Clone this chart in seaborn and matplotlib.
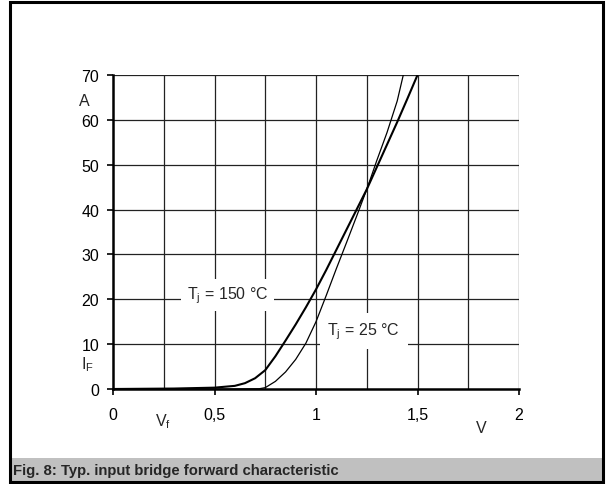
import matplotlib
matplotlib.use("Agg")
import matplotlib.pyplot as plt
import seaborn as sns
import pandas as pd
from matplotlib.patches import Rectangle

sns.set_theme(style="white")
plt.rcParams['font.family'] = ['Liberation Sans', 'DejaVu Sans']

# Data
v_150 = [0.0, 0.3, 0.5, 0.6, 0.65, 0.7, 0.75, 0.8, 0.85, 0.9, 0.95, 1.0, 1.05, 1.1, 1.15, 1.2, 1.25, 1.3, 1.35, 1.4, 1.45, 1.5]
i_150 = [0.0, 0.1, 0.3, 0.7, 1.3, 2.4, 4.2, 7.3, 10.8, 14.4, 18.2, 22.2, 26.5, 31.0, 35.5, 40.0, 44.5, 49.5, 54.5, 59.5, 64.7, 70.0]
v_25 = [0.0, 0.6, 0.72, 0.75, 0.8, 0.85, 0.9, 0.95, 1.0, 1.05, 1.1, 1.15, 1.2, 1.25, 1.3, 1.35, 1.4, 1.43]
i_25 = [0.0, 0.0, 0.05, 0.3, 1.7, 3.8, 6.6, 10.2, 15.0, 20.8, 26.8, 32.6, 38.5, 44.5, 51.0, 57.2, 64.2, 70.0]
x_ticks = [0, 0.5, 1, 1.5, 2]
x_tick_labels = ["0", "0,5", "1", "1,5", "2"]
y_ticks = [0, 10, 20, 30, 40, 50, 60, 70]
caption = "Fig. 8: Typ. input bridge forward characteristic"

df150 = pd.DataFrame({"V": v_150, "I": i_150})
df25 = pd.DataFrame({"V": v_25, "I": i_25})

W, H = 607, 485
fig = plt.figure(figsize=(W / 100, H / 100), dpi=100)

def fx(px):
    return px / W

def fy(py):
    return 1 - py / H

ax = fig.add_axes([fx(113), fy(390), fx(519) - fx(113), fy(76) - fy(390)])

FS = 11.5

# grid
for gx in [0.25 * k for k in range(1, 9)]:
    ax.axvline(gx, color="#222222", lw=0.9, zorder=1)
for gy in y_ticks[1:]:
    ax.axhline(gy, color="#222222", lw=0.9, zorder=1)

sns.lineplot(data=df150, x="V", y="I", ax=ax, color="black", lw=1.5, zorder=3)
sns.lineplot(data=df25, x="V", y="I", ax=ax, color="black", lw=0.9, zorder=3)

ax.set_xlim(0, 2)
ax.set_ylim(0, 70)
ax.set_xticks(x_ticks)
ax.set_xticklabels(x_tick_labels)
ax.set_yticks(y_ticks)
ax.set_xlabel("")
ax.set_ylabel("")
for s in ["top", "right"]:
    ax.spines[s].set_visible(False)
for s in ["left", "bottom"]:
    ax.spines[s].set_color("black")
    ax.spines[s].set_linewidth(1.8)
    ax.spines[s].set_zorder(4)
ax.tick_params(axis="both", direction="out", length=4, width=1.2, color="black",
               labelsize=FS, labelcolor="black", left=True, bottom=True)
ax.tick_params(axis="x", pad=9)
ax.tick_params(axis="y", pad=6)

ax.text(0.565, 21.0, r"T$_\mathregular{j}$ = 150 °C", fontsize=FS, ha="center", va="center",
        bbox=dict(facecolor="white", edgecolor="none", pad=4), zorder=5)
ax.text(1.235, 12.9, r"T$_\mathregular{j}$ = 25 °C", fontsize=FS, ha="center", va="center",
        bbox=dict(facecolor="white", edgecolor="none", pad=5.5), zorder=5)

fig.text(fx(84), fy(102), "A", fontsize=FS, ha="center", va="center")
fig.text(fx(87), fy(365), r"I$_\mathregular{F}$", fontsize=FS, ha="center", va="center")
fig.text(fx(163), fy(422), r"V$_\mathregular{f}$", fontsize=FS, ha="center", va="center")
fig.text(fx(481), fy(429), "V", fontsize=FS, ha="center", va="center")

# footer band and frame
fig.patches.append(Rectangle((fx(10), fy(483)), fx(603) - fx(10), fy(459) - fy(483),
                             transform=fig.transFigure, facecolor="#c0c0c0",
                             edgecolor="none", zorder=0))
fig.text(fx(13), fy(471), caption, fontsize=10.7, fontweight="bold", ha="left", va="center")
fig.patches.append(Rectangle((fx(10), fy(483)), fx(603) - fx(10), fy(3) - fy(483),
                             transform=fig.transFigure, facecolor="none",
                             edgecolor="black", lw=2.2, zorder=10))

fig.savefig("out.png", dpi=100)
